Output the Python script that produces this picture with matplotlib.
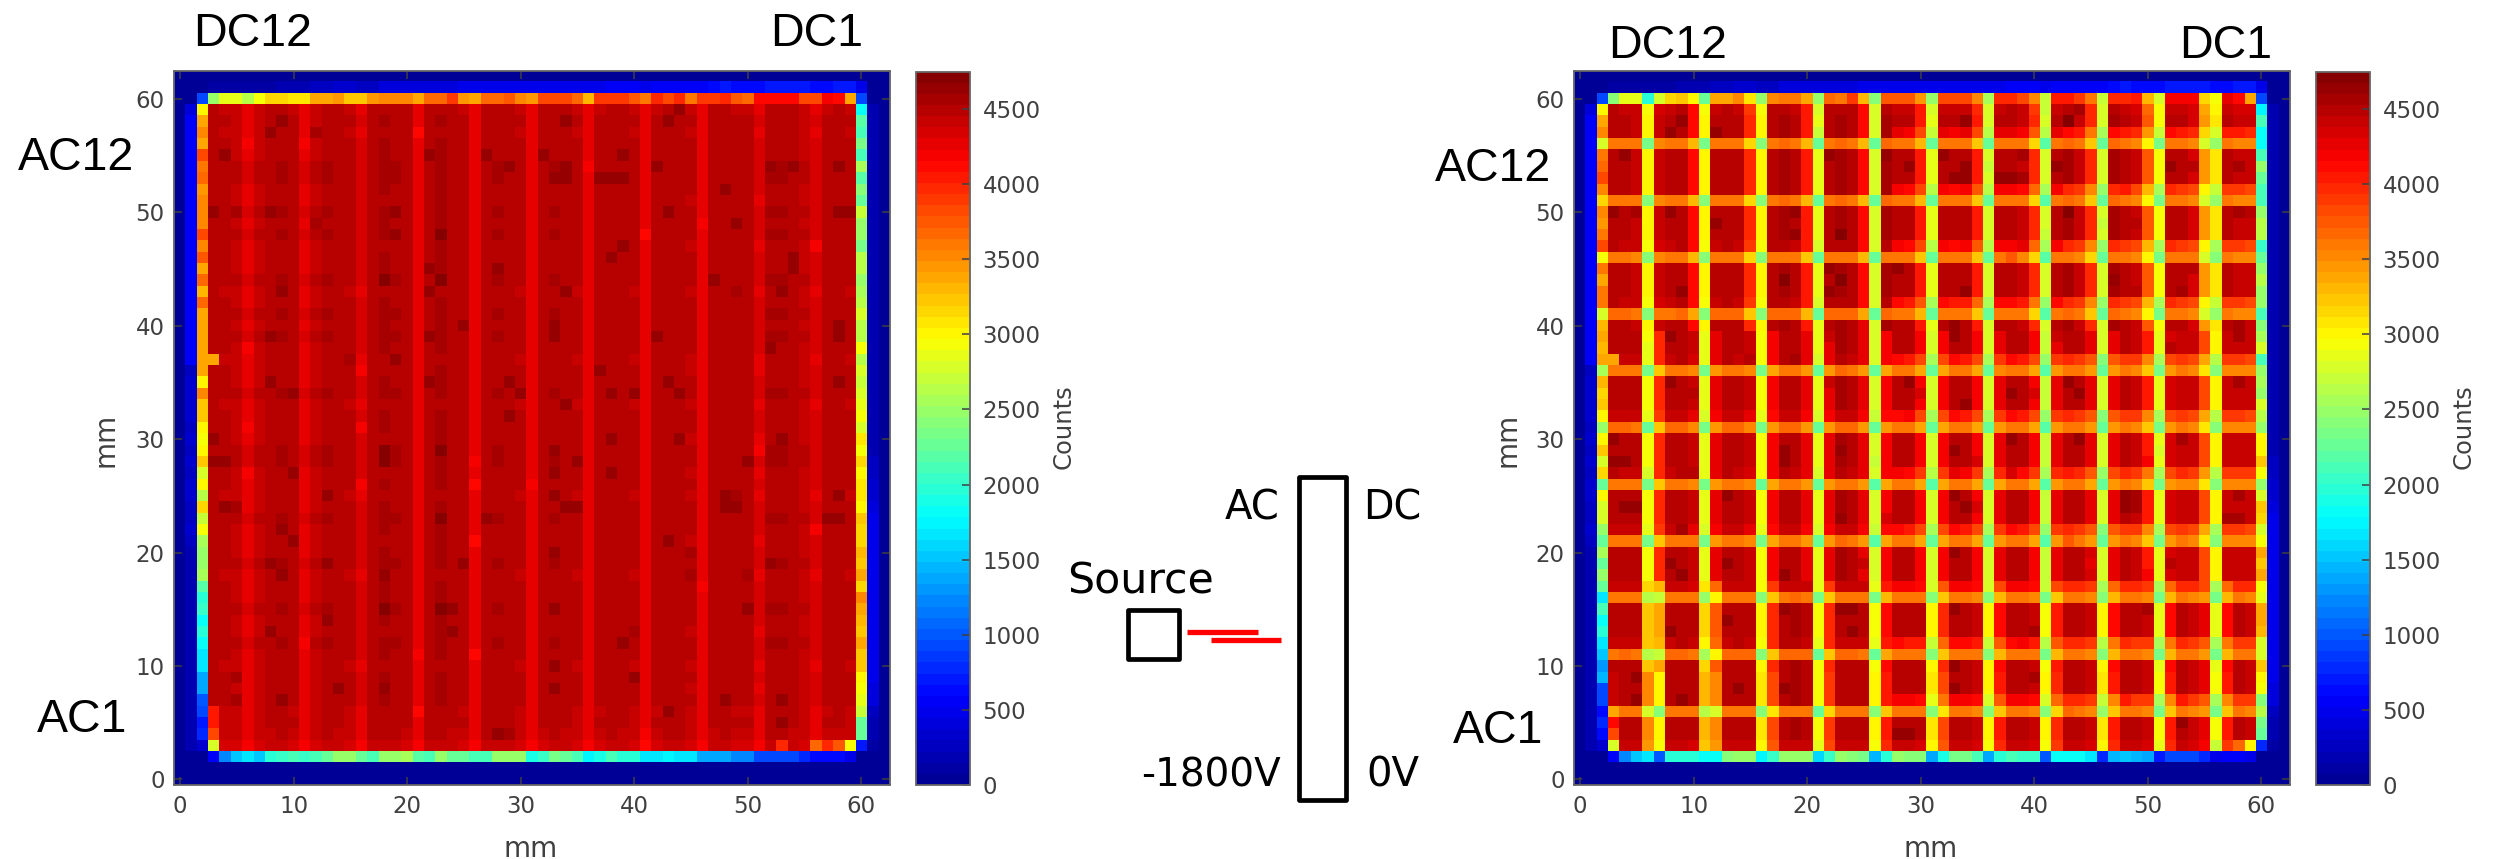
import numpy as np
import matplotlib
matplotlib.use('Agg')
import matplotlib.pyplot as plt
from matplotlib.colors import ListedColormap
from matplotlib.patches import Rectangle

# Counts. 63 x 63 cells is too much to read one by one, so the
# interior is built from read column/row levels plus the cells that stand out.
# Lists over columns run col 3..59, lists over rows run row 3..59 unless noted.
background = 60
left_cols = [4500, 4470, 4450,
             4300, 4450, 4500, 4520, 4480, 4300, 4450, 4520, 4500, 4470,
             4320, 4510, 4530, 4520, 4490, 4290, 4510, 4540, 4500, 4480,
             4280, 4510, 4520, 4500, 4470, 4290, 4490, 4520, 4500, 4470,
             4290, 4480, 4510, 4500, 4470, 4260, 4480, 4510, 4510, 4460,
             4290, 4500, 4510, 4480, 4480, 4310, 4520, 4520, 4500, 4450,
             4320, 4480, 4500, 4470]
left_rows = [4380, 4450, 4480,
             4470, 4500, 4490, 4500, 4480, 4500, 4510, 4490, 4500, 4510,
             4500, 4500, 4480, 4510, 4500, 4490, 4500, 4510, 4500, 4480,
             4500, 4490, 4510, 4510, 4490, 4500, 4500, 4480, 4510, 4500,
             4490, 4480, 4500, 4510, 4500, 4510, 4500, 4480, 4510, 4500,
             4500, 4490, 4510, 4500, 4510, 4490, 4500, 4510, 4510, 4500,
             4500, 4480, 4500, 4470]
right_cols_top = [4520, 4490, 4450,
                  3000, 4400, 4480, 4520, 4130, 2970, 4500, 4520, 4500, 3950,
                  2980, 4520, 4540, 4500, 4080, 2830, 4510, 4540, 4510, 4130,
                  2800, 4530, 4500, 4470, 4080, 2830, 4500, 4470, 4480, 4020,
                  2820, 4500, 4510, 4450, 3950, 2760, 4500, 4540, 4450, 3980,
                  2800, 4530, 4470, 4380, 3750, 2950, 4500, 4460, 4360, 3450,
                  3050, 4470, 4420, 4380]
right_cols_mid = [4520, 4490, 4480,
                  2920, 4000, 4500, 4520, 4380, 2880, 4300, 4510, 4500, 4380,
                  2950, 4230, 4520, 4490, 4300, 2830, 4280, 4530, 4500, 4290,
                  2800, 4220, 4510, 4470, 4200, 2820, 4210, 4490, 4480, 4200,
                  2790, 4250, 4500, 4460, 4180, 2740, 4300, 4520, 4470, 4250,
                  2790, 4300, 4470, 4400, 4050, 2880, 4330, 4450, 4380, 3850,
                  3000, 4420, 4420, 4380]
right_cols_low = [4480, 4500, 4480,
                  3250, 3350, 4500, 4520, 4470, 3130, 3750, 4500, 4510, 4490,
                  2970, 4000, 4510, 4530, 4490, 2900, 4000, 4500, 4500, 4480,
                  2900, 4120, 4500, 4480, 4460, 3000, 4000, 4510, 4490, 4450,
                  2980, 4100, 4500, 4480, 4450, 2920, 4080, 4500, 4500, 4420,
                  3000, 4120, 4500, 4480, 4420, 2880, 4100, 4500, 4450, 4300,
                  2880, 4120, 4480, 4450]
right_cols_base = [4400, 4500, 4480,
                   3500, 3020, 4500, 4520, 4470, 3300, 3500, 4500, 4510, 4490,
                   3050, 3850, 4510, 4530, 4490, 2930, 3900, 4500, 4500, 4480,
                   2980, 4050, 4500, 4480, 4460, 3060, 3850, 4510, 4490, 4450,
                   3030, 4030, 4500, 4480, 4450, 2970, 3980, 4500, 4500, 4420,
                   3070, 4050, 4500, 4480, 4420, 2920, 4040, 4500, 4450, 4300,
                   2920, 4050, 4480, 4450]
right_rows_a = [4400, 4500, 4500,
                3600, 4500, 4500, 4500, 4500, 3650, 4450, 4500, 4500, 4500,
                3620, 4400, 4500, 4500, 4500, 3620, 4400, 4500, 4500, 4500,
                3600, 4450, 4500, 4500, 4500, 3650, 4400, 4500, 4500, 4500,
                3620, 4450, 4500, 4500, 4500, 3650, 4450, 4500, 4500, 4500,
                3600, 4450, 4500, 4500, 4500, 3620, 4500, 4500, 4500, 4500,
                3620, 4500, 4500, 4450]
right_rows_b = [4400, 4500, 4500,
                3600, 4180, 4500, 4500, 4500, 3620, 4100, 4500, 4500, 4500,
                3600, 4180, 4500, 4500, 4500, 3620, 4100, 4500, 4500, 4500,
                3600, 4180, 4500, 4500, 4500, 3620, 4100, 4500, 4500, 4500,
                3620, 4100, 4500, 4500, 4500, 3620, 4100, 4500, 4500, 4500,
                3600, 4180, 4500, 4500, 4500, 3620, 4180, 4500, 4500, 4500,
                3620, 4250, 4500, 4450]
right_rows_c = [4400, 4500, 4500,
                3600, 3950, 4500, 4500, 4500, 3620, 3950, 4500, 4500, 4500,
                3600, 4000, 4500, 4500, 4500, 3620, 3950, 4500, 4500, 4500,
                3600, 4000, 4500, 4500, 4500, 3620, 3950, 4500, 4500, 4500,
                3620, 3950, 4500, 4500, 4500, 3620, 3950, 4500, 4500, 4500,
                3600, 3950, 4500, 4500, 4500, 3620, 3950, 4500, 4500, 4500,
                3620, 4100, 4500, 4450]

# Border cells: col 2 and col 60 run top to bottom (row 59..3)
left_col2 = [3000, 3400, 3500, 3350, 3800, 3600, 3700, 3450, 3500, 3500,
             3500, 3800, 3500, 3750, 3400, 3650, 3300, 3700, 3350, 3400,
             3400, 3400, 3400, 3350, 3000, 3500, 3250, 3200, 3000, 2950,
             3000, 3250, 2800, 3000, 2650, 3150, 2700, 2950, 2550, 2500,
             2450, 2550, 2200, 2000, 2050, 1800, 1950, 1850, 1700, 1650,
             1400, 1400, 1000, 950, 700, 750, 350]
left_col60 = [1800, 2200, 2100, 2350, 2100, 2550, 2200, 2400, 2300, 2700,
              2500, 2450, 2350, 2600, 2600, 2500, 2550, 2650, 2750, 2650,
              2600, 2950, 2600, 2750, 2700, 2800, 2850, 2950, 2750, 3100,
              2900, 3150, 3000, 3100, 3050, 3000, 3200, 3150, 3150, 3300,
              3200, 3400, 3150, 3500, 3400, 3300, 3250, 3350, 3250, 3250,
              3000, 2950, 2850, 2700, 2300, 2300, 700]
right_col2 = [3000, 3350, 3500, 2800, 3600, 3650, 3800, 3500, 3150, 3500,
              3450, 3600, 3800, 2950, 3600, 3350, 3600, 3600, 2800, 3300,
              3350, 3300, 3350, 2550, 3300, 3150, 3200, 3000, 2500, 3000,
              3200, 2800, 3150, 2300, 3000, 2750, 2800, 2500, 2250, 2550,
              2250, 2500, 2250, 1650, 2100, 1800, 1950, 1700, 1500, 1300,
              1450, 950, 950, 600, 800, 600, 350]
right_col60 = [1750, 2150, 1850, 1800, 2150, 2450, 2250, 2150, 2100, 2500,
               2600, 2600, 2050, 2300, 2500, 2600, 2450, 2450, 2100, 2400,
               2550, 2750, 2100, 2450, 2550, 2500, 2800, 2600, 2500, 3000,
               3000, 3200, 2900, 2450, 2800, 3200, 3150, 2800, 2900, 3400,
               3200, 3350, 2900, 2850, 3350, 3350, 3300, 2800, 2800, 3250,
               3000, 2950, 2400, 2650, 2350, 2300, 800]

# Row 60, col 2..60
left_row60 = [900, 2500, 2850, 2850, 2650, 2950, 3150, 3150, 3100, 3050,
              3350, 3350, 3450, 3250, 3250, 3450, 3550, 3550, 3500, 3350,
              3700, 3700, 3900, 3450, 3400, 3700, 3700, 3750, 3550, 3450,
              3800, 3850, 3850, 3700, 3300, 3900, 3900, 3900, 3750, 3600,
              4000, 3850, 3950, 3600, 3900, 3900, 3950, 3750, 3700, 4100,
              4100, 4100, 4100, 3850, 3850, 4200, 4100, 3400, 950]
right_row60 = [900, 2400, 2850, 2850, 1950, 2800, 3150, 3200, 3000, 2250,
               3350, 3350, 3500, 3100, 2450, 3500, 3600, 3600, 3350, 2500,
               3700, 3600, 3900, 3300, 2400, 3750, 3750, 3750, 3450, 2450,
               3850, 3850, 3850, 3500, 2550, 3950, 3950, 3850, 3550, 2700,
               4050, 4050, 3900, 3600, 2700, 3950, 4000, 4050, 3300, 2750,
               4200, 4200, 4200, 3150, 2950, 4300, 4150, 3400, 950]

# Row 2, col 3..59
left_row2 = [550, 1250, 1550,
             1700, 1500, 2000, 2050, 2100, 2050, 2100, 2250, 2500, 2500,
             2250, 2150, 2500, 2500, 2550, 2200, 2150, 2450, 2300, 2250,
             2100, 2100, 2450, 2450, 2450, 1900, 2050, 2350, 2250, 2100,
             1750, 1900, 2100, 2000, 1950, 1650, 1700, 1750, 1700, 1650,
             1350, 1400, 1400, 1250, 1200, 950, 900, 950, 900, 800,
             620, 600, 600, 500]
right_row2 = [550, 1250, 1500,
              1650, 1000, 2000, 2000, 2000, 1850, 1850, 2400, 2500, 2500,
              1750, 2050, 2500, 2500, 2500, 1600, 2050, 2500, 2400, 2350,
              1450, 2000, 2450, 2400, 2400, 1350, 1900, 2350, 2350, 2150,
              1350, 1950, 2150, 2050, 2050, 1000, 1800, 1800, 1800, 1700,
              800, 1450, 1500, 1450, 1350, 700, 950, 950, 900, 750,
              480, 550, 550, 500]

# Faint blue rim just outside the detector
row61 = [60, 60, 70, 80, 100, 110, 120, 130, 140, 150,
         170, 180, 280, 290, 300, 300, 280, 260, 380, 380,
         400, 410, 420, 400, 430, 450, 460, 480, 470, 480,
         470, 480, 490, 500, 510, 500, 450, 500, 530, 530,
         520, 500, 520, 550, 560, 560, 530, 600, 680, 620,
         640, 620, 700, 720, 720, 700, 650, 650, 700, 720,
         500, 60, 60]
col1 = [150, 170, 180, 190, 190, 180, 180, 190, 170, 180, 170, 180, 170, 190,
        200, 190, 180, 190, 290, 300, 280, 290, 300, 310, 290, 300, 280, 300,
        290, 300, 300, 310, 300, 290, 550, 560, 540, 550, 560, 570, 550, 560,
        560, 570, 580, 570, 560, 560, 570, 560, 550, 570, 560, 550, 560, 540, 400]
col61 = [120, 180, 200, 260, 380, 420, 450, 460, 450, 470, 460, 450, 470, 480,
         460, 450, 470, 480, 470, 450, 460, 440, 350, 300, 260, 230, 220, 210,
         200, 210, 200, 190, 210, 220, 200, 190, 200, 190, 200, 210, 190, 200,
         190, 180, 190, 200, 180, 190, 180, 190, 180, 190, 180, 190, 180, 170, 170]

# Single cells that stand out, (col, row); the noise is common to both panels
dark_cells = [(4, 55), (8, 57), (9, 58), (12, 57), (34, 58), (43, 58), (44, 59), (22, 55),
              (27, 55), (32, 55), (29, 54), (34, 54), (39, 55), (42, 54), (52, 54), (54, 54),
              (58, 54), (37, 53), (38, 53), (39, 53), (33, 53), (34, 53), (48, 52), (5, 50),
              (8, 50), (3, 50), (43, 50), (19, 50), (12, 49), (49, 49), (58, 50), (59, 50),
              (19, 48), (23, 48), (39, 47), (38, 46), (54, 46), (54, 45), (22, 45), (28, 45),
              (18, 44), (23, 44), (47, 44), (9, 43), (22, 43), (34, 43), (49, 43), (53, 43),
              (33, 40), (25, 40), (58, 40), (8, 39), (22, 39), (33, 39), (42, 39), (58, 39),
              (52, 38), (15, 37), (19, 37), (37, 36), (8, 35), (22, 35), (29, 35), (43, 35),
              (58, 35), (10, 34), (30, 34), (38, 34), (40, 34), (44, 34), (34, 33), (29, 32),
              (38, 30), (44, 30), (53, 30), (3, 30), (23, 29), (18, 29), (33, 29), (3, 28),
              (4, 28), (18, 28), (50, 28), (35, 28), (10, 27), (33, 27), (38, 27), (13, 25),
              (4, 24), (5, 24), (48, 25), (49, 25), (33, 25), (34, 24), (35, 24), (48, 24),
              (49, 24), (58, 25), (23, 23), (27, 23), (57, 23), (58, 23), (9, 22), (10, 21),
              (43, 21), (33, 20), (45, 20), (25, 19), (13, 19), (8, 19), (52, 19), (9, 18),
              (18, 18), (45, 18), (50, 18), (18, 15), (33, 15), (50, 15), (23, 15), (24, 15),
              (13, 14), (24, 13), (8, 13), (40, 13), (39, 12), (33, 10), (5, 9), (40, 9),
              (18, 8), (14, 8), (33, 8), (9, 7), (5, 7), (48, 7), (53, 7), (43, 6), (53, 5),
              (28, 4), (29, 4)]
bright_cells = [(21, 57), (11, 56), (6, 56), (6, 27), (26, 28), (26, 26), (31, 26), (16, 26),
                (16, 31), (6, 31), (46, 49), (26, 11), (21, 6), (46, 17), (56, 47), (56, 22),
                (26, 21), (6, 38), (16, 36), (21, 11), (36, 54), (41, 48), (51, 29), (11, 12)]

# Cells by the corners and the odd pair at row 37, (col, row, counts)
left_corner_cells = [(3, 3, 2800), (3, 4, 3800), (3, 5, 4050), (3, 6, 4050), (3, 37, 3400),
                     (53, 3, 3950), (56, 3, 3650), (57, 3, 3950), (58, 3, 3750), (59, 3, 2900)]
right_corner_cells = [(3, 3, 2800), (3, 4, 3800), (3, 5, 4150), (3, 6, 3350), (3, 37, 3400),
                      (56, 3, 2700), (57, 3, 3900), (58, 3, 3700), (59, 3, 3000)]

level = 4500.0
tick_values = [0, 10, 20, 30, 40, 50, 60]
bar_ticks = [0, 500, 1000, 1500, 2000, 2500, 3000, 3500, 4000, 4500]
count_max = 4750

# MATLAB jet, 64 steps
steps = (np.arange(64) + 0.5) / 64
jet64 = ListedColormap(np.column_stack([
    np.interp(steps, [0.375, 0.625, 0.875, 1], [0, 1, 1, 0.5]),
    np.interp(steps, [0.125, 0.375, 0.625, 0.875], [0, 1, 1, 0]),
    np.interp(steps, [0, 0.125, 0.375, 0.625], [0.5625, 1, 1, 0]),
]))


def build_cells(col_top, col_mid, col_low, col_base, rows_a, rows_b, rows_c, col2, col60, row60, row2, corners):
    cells = np.full((63, 63), float(background))
    for c in range(3, 60):
        for r in range(3, 60):
            cols = col_top if r >= 40 else col_mid if r >= 18 else col_low if r >= 10 else col_base
            rows = rows_a if c <= 27 else rows_b if c <= 42 else rows_c
            cells[r, c] = cols[c - 3] * rows[r - 3] / level
    for c, r in dark_cells:
        cells[r, c] = min(cells[r, c] * 1.03, 4740)
    for c, r in bright_cells:
        cells[r, c] = cells[r, c] * 0.97
    for c, r, v in corners:
        cells[r, c] = v
    cells[3:60, 2] = col2[::-1]
    cells[3:60, 60] = col60[::-1]
    cells[60, 2:61] = row60
    cells[2, 3:60] = row2
    cells[61, :] = row61
    cells[3:60, 1] = col1
    cells[3:60, 61] = col61
    return cells


left_cells = build_cells(left_cols, left_cols, left_cols, left_cols, left_rows, left_rows, left_rows,
                         left_col2, left_col60, left_row60, left_row2, left_corner_cells)
right_cells = build_cells(right_cols_top, right_cols_mid, right_cols_low, right_cols_base,
                          right_rows_a, right_rows_b, right_rows_c,
                          right_col2, right_col60, right_row60, right_row2, right_corner_cells)

W, H = 2501, 859
fig = plt.figure(figsize=(W / 100, H / 100), dpi=100)
grey = '#404040'


def px_axes(x0, y0, x1, y1):
    return fig.add_axes([x0 / W, 1 - y1 / H, (x1 - x0) / W, (y1 - y0) / H])


def draw_panel(cells, x_off):
    ax = px_axes(174.3 + x_off, 70.5, 889.8 + x_off, 785)
    im = ax.imshow(cells, origin='lower', cmap=jet64, vmin=0, vmax=count_max,
                   aspect='auto', interpolation='nearest')
    ax.set_xticks(tick_values)
    ax.set_yticks(tick_values)
    ax.tick_params(direction='in', top=True, right=True, length=6, width=1.1, color=grey,
                   labelcolor=grey, labelsize=16.5, pad=7)
    for s in ax.spines.values():
        s.set_color('#666666')
        s.set_linewidth(1.3)

    cax = px_axes(915.7 + x_off, 71.5, 970 + x_off, 785)
    cb = fig.colorbar(im, cax=cax)
    cb.set_ticks(bar_ticks)
    cax.tick_params(direction='in', length=6, width=1.1, color=grey, labelcolor=grey,
                    labelsize=16.5, pad=9)
    cb.outline.set_edgecolor('#666666')
    cb.outline.set_linewidth(1.3)


draw_panel(left_cells, 0)
draw_panel(right_cells, 1400)

# Overlay in pixel coordinates for the labels and the sketch
over = fig.add_axes([0, 0, 1, 1])
over.set_xlim(0, W)
over.set_ylim(H, 0)
over.axis('off')
over.patch.set_alpha(0)

for x, y, s in [(193, 46, 'DC12'), (770, 46, 'DC1'), (18, 170, 'AC12'), (37, 732, 'AC1'),
                (1608, 58, 'DC12'), (2179, 58, 'DC1'), (1435, 181, 'AC12'), (1453, 743, 'AC1')]:
    over.text(x, y, s, family='Liberation Sans', fontsize=33.5, color='black', va='baseline', ha='left')

for x, s in [(531, 'mm'), (1931, 'mm')]:
    over.text(x, 849, s, fontsize=20, color=grey, ha='center', va='center')
for x, s, fs in [(105, 'mm', 20), (1507, 'mm', 20), (1064, 'Counts', 17.5), (2464, 'Counts', 17.5)]:
    over.text(x, 440 if s == 'mm' else 427, s, fontsize=fs, color=grey, ha='center', va='center', rotation=90)

over.add_patch(Rectangle((1298.7, 477), 47.6, 322.7, fill=False, ec='black', lw=3.4, joinstyle='round'))
over.add_patch(Rectangle((1128, 610.3), 51, 48.7, fill=False, ec='black', lw=3.4, joinstyle='round'))
over.plot([1186.7, 1258], [631.7, 631.7], color='#ff0000', lw=3.8, solid_capstyle='butt')
over.plot([1210.7, 1281], [640, 640], color='#ff0000', lw=3.8, solid_capstyle='butt')
for x, y, s, ha, fs in [(1224.3, 519, 'AC', 'left', 29), (1362.7, 519, 'DC', 'left', 28.5),
                        (1066.7, 593, 'Source', 'left', 30.8), (1281, 786.7, '-1800V', 'right', 28),
                        (1366, 786.7, '0V', 'left', 29)]:
    over.text(x, y, s, fontsize=fs, color='black', va='baseline', ha=ha)

fig.savefig('out.png', dpi=100)
